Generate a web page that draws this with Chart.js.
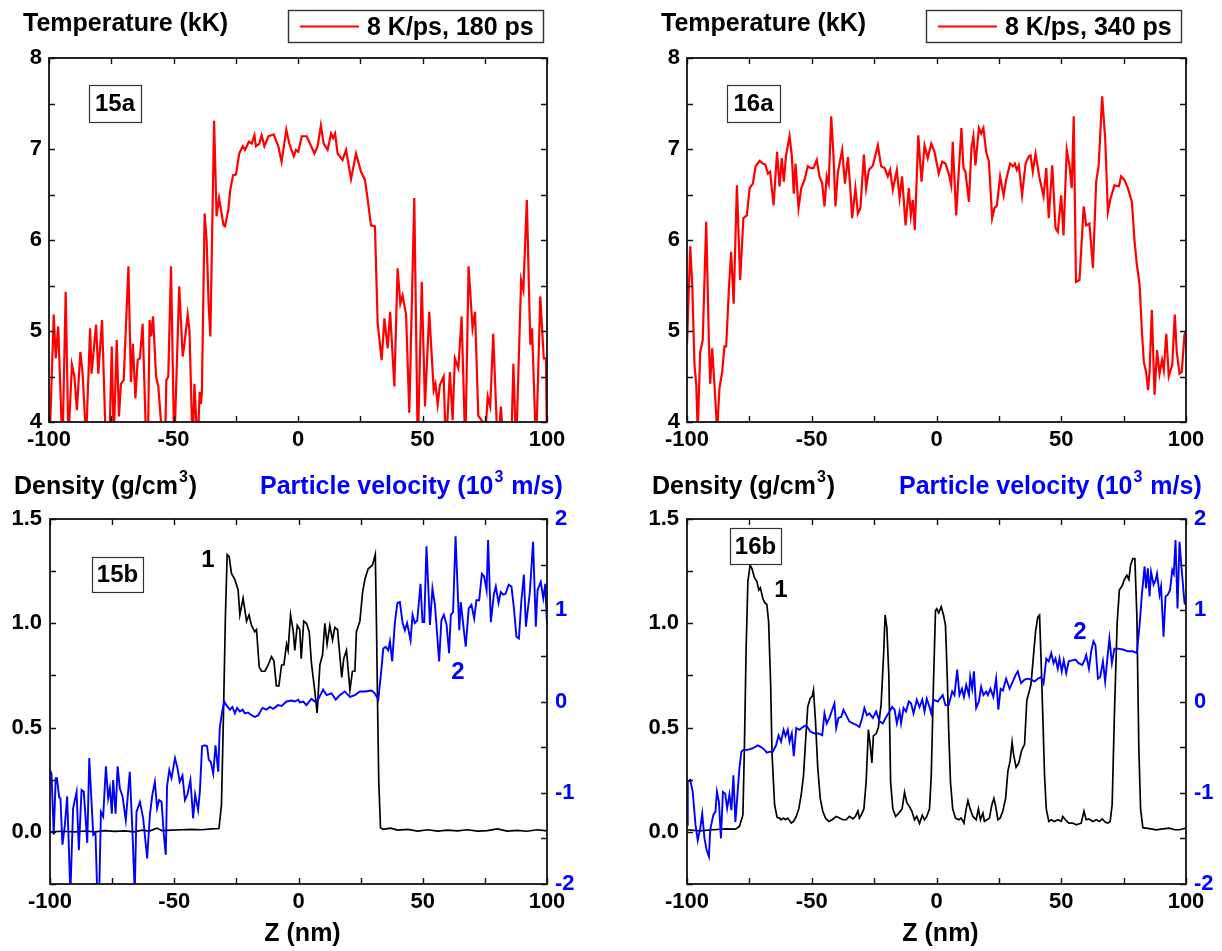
<!DOCTYPE html>
<html>
<head>
<meta charset="utf-8">
<title>Temperature, density and particle velocity profiles</title>
<script src="https://cdn.jsdelivr.net/npm/chart.js@4.4.1/dist/chart.umd.min.js"></script>
<style>
	html, body { margin: 0; padding: 0; background: #fff; }
	#page { position: relative; width: 1222px; height: 951px; overflow: hidden; }
	#page canvas { position: absolute; left: 0; top: 0; }
</style>
</head>
<body>
<div id="page">
	<canvas id="c15a" width="1222" height="951"></canvas>
	<canvas id="c16a" width="1222" height="951"></canvas>
	<canvas id="c15b" width="1222" height="951"></canvas>
	<canvas id="c16b" width="1222" height="951"></canvas>
</div>
<script>
// ---- labels ----
const panelLabels = ['15a', '16a', '15b', '16b']
const legendLabels = ['8 K/ps, 180 ps', '8 K/ps, 340 ps']
const curveLabels = ['1', '2']
const tempTitle = ['Temperature (kK)']
const densTitle = ['Density (g/cm', { sup: '3' }, ')']
const velTitle = ['Particle velocity (10', { sup: '3' }, ' m/s)']
const zTitle = 'Z (nm)'

// ---- temperature, 180 ps (kK) ----
const tempZ15 = [
	-100, -99.5, -98.1, -97.3, -96.3, -94.6, -93.3, -92.2, -90.8, -89.8,
	-88.8, -87.4, -86.5, -85.1, -83.5, -82.9, -81.1, -80.2, -78.7, -77.1,
	-75.8, -74.8, -74.0, -72.8, -71.9, -71.1, -70.0, -68.1, -67.1, -66.3,
	-65.3, -64.4, -63.5, -62.4, -60.9, -60.3, -59.6, -59.0, -58.2, -57.0,
	-56.1, -54.2, -53.4, -52.9, -52.1, -51.0, -49.7, -47.7, -46.3, -45.6,
	-44.3, -43.6, -42.3, -41.6, -40.3, -39.5, -39.0, -38.6, -37.5, -36.7,
	-35.9, -35.2, -33.7, -32.7, -31.7, -30.9, -29.9, -29.3, -28.0, -27.2,
	-26.1, -24.9, -23.6, -22.2, -21.3, -19.7, -18.6, -17.5, -16.9, -15.5,
	-14.6, -13.5, -11.9, -9.8, -7.9, -6.6, -5.5, -4.7, -3.5, -1.7,
	-0.8, 0.1, 1.5, 3.5, 6.6, 7.9, 9.2, 10.3, 11.9, 13.3,
	14.1, 14.9, 15.9, 17.9, 19.3, 21.3, 23.3, 25.3, 26.9, 28.0,
	29.3, 30.9, 32.0, 33.6, 34.7, 36.0, 37.0, 38.7, 40.0, 41.1,
	42.0, 43.4, 44.7, 46.7, 48.1, 49.7, 51.0, 52.7, 54.5, 55.2,
	56.1, 57.0, 58.5, 59.4, 61.0, 62.1, 63.0, 64.4, 65.7, 67.2,
	68.5, 70.1, 71.1, 72.4, 74.2, 75.1, 76.2, 77.2, 78.4, 80.2,
	81.5, 82.6, 85.6, 86.5, 87.6, 89.6, 90.5, 91.9, 93.3, 94.0,
	95.6, 97.3, 98.7, 99.6, 100,
]
const temp15 = [
	3.8, 4.0, 5.18, 4.70, 5.05, 3.7, 5.43, 3.8, 4.63, 4.5,
	4.13, 4.77, 4.53, 3.8, 5.03, 4.53, 5.07, 4.53, 5.12, 3.7,
	3.7, 4.83, 3.8, 4.9, 4.06, 4.42, 4.46, 5.71, 4.44, 4.86,
	4.26, 4.68, 4.70, 5.08, 3.7, 3.7, 5.12, 4.94, 5.16, 4.5,
	4.39, 3.7, 3.7, 4.46, 4.5, 5.71, 3.7, 5.49, 4.72, 4.86,
	5.18, 5.01, 3.7, 4.42, 3.7, 4.33, 4.2, 4.33, 6.29, 6.0,
	5.3, 4.94, 7.31, 6.26, 6.46, 6.33, 6.16, 6.15, 6.33, 6.55,
	6.71, 6.72, 6.95, 7.03, 6.99, 7.08, 7.06, 7.15, 7.03, 7.06,
	7.15, 7.03, 7.14, 7.16, 7.03, 6.86, 7.06, 7.21, 7.06, 6.92,
	6.99, 6.97, 7.14, 7.14, 6.95, 7.03, 7.26, 7.06, 6.99, 7.17,
	7.12, 7.17, 6.95, 6.88, 6.99, 6.67, 6.95, 6.75, 6.66, 6.44,
	6.16, 6.15, 5.08, 4.68, 5.14, 4.81, 5.21, 4.39, 5.69, 5.3,
	5.39, 5.18, 4.1, 6.46, 3.7, 5.54, 4.17, 5.21, 4.35, 4.42,
	4.19, 4.41, 4.5, 3.7, 4.55, 4.02, 4.7, 4.59, 5.16, 3.7,
	5.71, 5.03, 5.21, 4.07, 4.0, 3.8, 4.28, 4.17, 4.97, 3.7,
	4.17, 3.7, 3.7, 4.64, 3.7, 5.56, 5.45, 6.44, 4.85, 5.03,
	3.7, 5.38, 4.70, 4.70, 3.7,
]

// ---- temperature, 340 ps (kK) ----
const tempZ16 = [
	-100, -98.7, -97.9, -97.0, -96.3, -95.7, -94.7, -93.7, -92.3, -91.2,
	-90.7, -89.9, -89.0, -87.9, -87.0, -85.9, -85.0, -84.3, -83.2, -82.3,
	-81.3, -80.0, -78.7, -77.4, -76.0, -74.9, -73.6, -72.5, -70.9, -69.6,
	-68.6, -67.6, -66.7, -65.3, -63.9, -62.9, -62.0, -61.2, -60.3, -58.9,
	-58.0, -57.2, -56.5, -55.3, -54.2, -52.9, -51.6, -50.3, -49.3, -48.0,
	-46.9, -45.8, -44.9, -44.0, -43.2, -42.2, -41.3, -40.5, -39.5, -37.8,
	-36.7, -35.5, -34.6, -33.8, -32.5, -31.5, -30.5, -29.1, -28.2, -27.1,
	-25.5, -23.5, -22.2, -20.8, -19.5, -18.6, -17.5, -15.9, -14.8, -13.8,
	-12.4, -11.1, -10.3, -9.5, -8.7, -7.3, -6.0, -4.8, -3.5, -2.1,
	-0.8, 0.9, 2.3, 3.6, 4.9, 5.9, 6.5, 7.9, 9.0, 10.0,
	10.8, 11.6, 13.0, 14.0, 14.8, 15.6, 17.0, 17.9, 18.8, 19.9,
	21.0, 22.3, 23.2, 24.2, 25.5, 26.9, 27.9, 29.5, 30.6, 31.4,
	32.2, 33.0, 34.3, 35.7, 37.0, 37.7, 38.6, 39.7, 41.3, 42.9,
	44.0, 45.0, 46.4, 47.7, 48.6, 50.0, 50.9, 52.2, 53.3, 54.2,
	55.0, 55.9, 57.3, 59.0, 60.0, 61.3, 62.7, 64.0, 65.0, 66.4,
	67.6, 68.7, 69.6, 71.3, 73.1, 74.0, 75.3, 76.7, 78.3, 79.4,
	80.3, 81.4, 82.4, 83.1, 84.0, 84.8, 85.4, 86.3, 87.4, 88.4,
	89.4, 90.4, 91.1, 92.1, 93.1, 94.5, 95.5, 96.3, 97.4, 98.3,
	99.4, 100,
]
const temp16 = [
	4.85, 5.93, 5.51, 4.63, 4.41, 3.9, 4.77, 4.9, 6.2, 4.85,
	4.42, 4.81, 4.41, 3.9, 4.37, 4.55, 4.83, 4.83, 5.47, 5.87,
	5.3, 6.6, 5.56, 6.24, 6.27, 6.57, 6.62, 6.81, 6.87, 6.84,
	6.83, 6.73, 6.75, 6.38, 6.97, 6.59, 6.9, 6.64, 6.93, 7.14,
	6.93, 6.51, 6.84, 6.35, 6.57, 6.66, 6.81, 6.79, 6.79, 6.88,
	6.7, 6.62, 6.37, 6.7, 6.62, 7.36, 6.93, 6.37, 6.75, 6.99,
	6.62, 6.91, 6.59, 6.24, 6.57, 6.29, 6.35, 6.94, 6.57, 6.77,
	6.82, 7.04, 6.81, 6.79, 6.7, 6.77, 6.55, 6.77, 6.46, 6.7,
	6.16, 6.57, 6.27, 6.44, 6.11, 7.15, 6.64, 7.04, 6.9, 7.06,
	6.97, 6.73, 6.86, 6.84, 6.73, 6.6, 7.08, 6.27, 6.79, 7.23,
	6.79, 6.75, 6.42, 7.01, 7.14, 6.82, 7.23, 7.17, 7.23, 6.97,
	6.86, 6.24, 6.35, 6.38, 6.7, 6.49, 6.66, 6.84, 6.81, 6.84,
	6.77, 6.82, 6.49, 6.84, 6.92, 6.93, 6.75, 6.95, 6.68, 6.48,
	6.79, 6.24, 6.82, 6.13, 6.09, 6.49, 6.05, 6.99, 6.82, 6.57,
	7.36, 5.54, 5.56, 6.37, 6.16, 6.18, 5.69, 6.64, 6.82, 7.58,
	7.12, 6.31, 6.44, 6.6, 6.59, 6.7, 6.66, 6.57, 6.42, 5.98,
	5.73, 5.51, 4.96, 4.66, 4.55, 4.35, 4.55, 5.23, 4.3, 4.79,
	4.53, 4.68, 4.57, 4.97, 4.5, 4.63, 5.18, 4.77, 4.53, 4.55,
	4.96, 5.0,
]

// ---- density, 180 ps (g/cm3) ----
const densZ15 = [
	-100, -95, -90, -86, -82, -78, -74, -70, -66, -63,
	-60, -57, -55, -51, -47, -43, -39, -35, -32, -31.0,
	-30.3, -29.4, -28.7, -27.9, -27.0, -25.6, -24.3, -23.6, -22.3, -20.9,
	-19.9, -18.9, -17.6, -16.9, -15.8, -14.9, -13.5, -12.2, -10.9, -9.9,
	-8.9, -7.9, -6.8, -5.9, -4.8, -4.2, -3.2, -2.1, -1.5, -0.5,
	0.5, 1.1, 2.1, 3.2, 4.3, 5.2, 6.6, 7.5, 8.6, 9.7,
	10.6, 11.5, 12.6, 13.7, 14.6, 15.7, 16.6, 17.4, 18.2, 19.3,
	20.7, 21.7, 22.7, 23.3, 24.7, 25.8, 26.7, 28.0, 29.8, 30.9,
	31.4, 31.8, 32.3, 33.0, 34.1, 37, 40, 44, 48, 52,
	56, 60, 64, 68, 72, 76, 80, 84, 88, 92,
	96, 100,
]
const dens15 = [
	0.0, 0.003, 0.0, 0.004, 0.0, 0.006, 0.002, 0.005, 0.0, 0.008,
	0.004, 0.018, 0.006, 0.008, 0.01, 0.012, 0.01, 0.014, 0.016, 0.13,
	0.5, 1.04, 1.33, 1.32, 1.24, 1.21, 1.16, 1.04, 1.12, 1.01,
	1.04, 0.99, 0.96, 0.97, 0.79, 0.77, 0.77, 0.80, 0.84, 0.82,
	0.70, 0.70, 0.80, 0.80, 0.90, 0.87, 1.04, 0.96, 0.87, 0.99,
	0.97, 0.83, 1.01, 1.0, 0.96, 0.81, 0.67, 0.57, 0.80, 0.85,
	1.0, 0.90, 0.99, 0.92, 0.98, 0.97, 0.85, 0.74, 0.83, 0.87,
	0.68, 0.77, 0.77, 0.96, 1.01, 1.15, 1.21, 1.26, 1.28, 1.33,
	0.98, 0.63, 0.24, 0.02, 0.012, 0.018, 0.008, 0.012, 0.004, 0.01,
	0.004, 0.008, 0.005, 0.01, 0.004, 0.006, 0.014, 0.004, 0.007, 0.003,
	0.01, 0.005,
]

// ---- particle velocity, 180 ps (10^3 m/s) ----
const velZ15 = [
	-100, -99.4, -98.5, -97.7, -97.2, -96.3, -95.8, -95.0, -94.0, -93.1,
	-91.8, -90.7, -89.3, -88.4, -87.3, -86.4, -85.0, -84.2, -82.6, -81.7,
	-81.0, -80.2, -79.5, -78.6, -77.5, -76.6, -75.9, -75.1, -74.6, -73.6,
	-72.8, -71.9, -70.8, -69.5, -67.9, -66.8, -65.9, -65.2, -63.8, -62.5,
	-61.7, -60.9, -59.8, -58.8, -57.8, -56.9, -56.1, -55.1, -54.2, -53.4,
	-52.9, -52.0, -51.1, -49.7, -48.7, -47.8, -46.7, -45.7, -44.7, -43.5,
	-42.4, -41.6, -40.4, -39.7, -38.8, -37.7, -36.8, -36.1, -35.3, -34.3,
	-33.4, -32.3, -31.7, -30.7, -29.9, -29.0, -27.6, -26.6, -25.6, -24.7,
	-23.6, -22.5, -21.6, -20.3, -18.9, -17.6, -16.2, -14.5, -12.9, -11.5,
	-10.2, -8.2, -6.8, -4.8, -2.8, -1.5, -0.1, 0.5, 1.9, 3.2,
	5.2, 6.6, 7.9, 9.9, 11.3, 13.3, 15.0, 16.6, 18.6, 20.7,
	22.7, 24.7, 26.7, 29.4, 30.7, 32.1, 33.4, 34.1, 35.1, 36.1,
	36.8, 37.7, 38.8, 39.8, 40.8, 41.9, 42.8, 43.7, 45.1, 45.9,
	46.8, 47.8, 49.1, 49.9, 50.6, 51.5, 52.9, 53.9, 54.9, 56.6,
	57.5, 58.5, 59.6, 60.6, 61.3, 62.2, 63.2, 64.7, 65.3, 66.3,
	67.3, 68.5, 69.6, 70.7, 71.6, 72.7, 73.8, 74.7, 75.7, 76.3,
	77.4, 78.6, 79.4, 80.5, 81.4, 82.4, 83.3, 84.6, 85.7, 86.7,
	87.7, 88.7, 89.7, 90.7, 91.5, 93.1, 94.4, 95.5, 96.2, 97.5,
	98.5, 99.3, 100,
]
const vel15 = [
	-0.75, -0.79, -1.46, -0.84, -0.84, -1.05, -1.06, -1.57, -1.35, -1.04,
	-2.1, -1.17, -0.99, -1.63, -0.97, -0.99, -1.55, -0.62, -1.46, -1.44,
	-2.1, -2.1, -1.21, -1.26, -0.71, -1.06, -0.95, -1.23, -0.86, -1.23,
	-0.71, -0.95, -1.04, -1.30, -0.77, -1.44, -2.1, -1.21, -1.10, -1.28,
	-1.50, -1.72, -1.24, -1.02, -0.88, -1.17, -1.08, -1.10, -1.46, -1.68,
	-0.93, -0.75, -0.84, -0.62, -0.73, -0.88, -0.81, -1.08, -1.02, -0.86,
	-1.28, -1.02, -1.19, -0.99, -0.49, -0.48, -0.49, -0.64, -0.66, -0.79,
	-0.48, -0.77, -0.29, -0.11, 0.0, -0.04, -0.09, -0.06, -0.13, -0.07,
	-0.11, -0.09, -0.13, -0.12, -0.15, -0.17, -0.15, -0.07, -0.09, -0.06,
	-0.08, -0.04, -0.05, 0.0, 0.01, 0.0, 0.02, -0.01, 0.0, -0.04,
	0.03, 0.0, 0.02, 0.13, 0.07, 0.09, 0.02, 0.07, 0.11, 0.05,
	0.07, 0.11, 0.11, 0.12, 0.09, 0.02, 0.36, 0.58, 0.6, 0.56,
	0.66, 0.44, 0.87, 1.08, 1.09, 0.86, 0.78, 0.86, 0.67, 0.95,
	0.86, 0.89, 1.29, 0.87, 0.87, 1.70, 0.84, 1.24, 1.06, 0.44,
	0.89, 0.95, 0.84, 0.53, 0.95, 0.98, 1.81, 0.78, 1.09, 0.84,
	0.60, 1.02, 1.06, 0.91, 1.11, 1.11, 1.40, 1.37, 1.22, 1.77,
	0.87, 1.17, 1.26, 1.08, 1.20, 1.17, 1.18, 1.28, 1.26, 1.02,
	0.71, 0.69, 1.11, 1.39, 0.82, 1.20, 1.75, 0.82, 1.22, 1.31,
	1.13, 1.29, 0.85,
]

// ---- density, 340 ps (g/cm3) ----
const densZ16 = [
	-100, -95, -89.6, -84.3, -80.6, -79.0, -77.6, -77.0, -76.3, -75.6,
	-74.7, -73.9, -73.0, -72.0, -71.2, -70.6, -69.6, -68.9, -68.0, -67.3,
	-66.5, -65.9, -64.9, -63.9, -62.9, -62.3, -61.3, -60.5, -59.6, -58.2,
	-57.3, -56.2, -55.2, -54.2, -53.3, -52.5, -51.6, -50.6, -49.8, -49.3,
	-48.5, -47.6, -46.6, -45.6, -44.5, -43.2, -41.8, -40.2, -38.9, -37.5,
	-36.2, -34.9, -33.5, -32.5, -31.5, -30.9, -30.2, -29.1, -28.2, -27.3,
	-26.6, -25.9, -25.3, -24.2, -23.3, -22.2, -21.2, -20.6, -19.9, -19.1,
	-18.4, -17.5, -16.4, -15.1, -13.8, -12.8, -11.9, -10.8, -9.9, -8.8,
	-7.9, -6.8, -5.7, -4.8, -3.9, -2.8, -2.1, -1.2, -0.4, 0.1,
	0.9, 1.9, 2.8, 3.6, 4.3, 4.9, 5.6, 6.5, 7.6, 9.0,
	9.9, 11.0, 11.9, 12.6, 13.5, 14.6, 15.9, 16.8, 17.6, 18.6,
	19.2, 20.2, 21.2, 22.2, 23.0, 23.6, 24.6, 25.5, 26.6, 27.7,
	28.6, 29.5, 30.3, 30.9, 31.9, 33.0, 34.1, 35.3, 36.2, 37.3,
	37.9, 38.9, 39.7, 40.6, 41.3, 41.9, 42.6, 43.3, 44.0, 45.0,
	46.0, 47.3, 48.6, 50.0, 50.6, 51.7, 53.0, 54.6, 56.0, 58.0,
	59.1, 60.0, 61.1, 62.7, 64.0, 65.3, 66.4, 67.7, 68.7, 69.6,
	70.4, 71.3, 72.4, 73.3, 74.4, 75.3, 76.3, 77.1, 77.8, 78.7,
	79.5, 80.3, 81.1, 81.8, 82.7, 84.0, 86.0, 88.0, 90.7, 93.4,
	95.4, 97.4, 99.8, 100,
]
const dens16 = [
	0.01, 0.005, 0.01, 0.014, 0.013, 0.026, 0.08, 0.40, 0.88, 1.20,
	1.28, 1.26, 1.22, 1.20, 1.16, 1.17, 1.12, 1.10, 1.09, 1.01,
	0.72, 0.37, 0.13, 0.07, 0.066, 0.058, 0.066, 0.058, 0.066, 0.042,
	0.05, 0.074, 0.11, 0.18, 0.27, 0.43, 0.60, 0.64, 0.65, 0.68,
	0.53, 0.31, 0.16, 0.10, 0.066, 0.05, 0.058, 0.074, 0.066, 0.058,
	0.058, 0.074, 0.062, 0.074, 0.10, 0.066, 0.08, 0.11, 0.24, 0.49,
	0.42, 0.33, 0.46, 0.47, 0.50, 0.61, 0.85, 1.04, 0.98, 0.75,
	0.24, 0.11, 0.074, 0.09, 0.11, 0.19, 0.14, 0.12, 0.10, 0.058,
	0.074, 0.04, 0.08, 0.058, 0.074, 0.11, 0.27, 0.72, 1.06, 1.07,
	1.05, 1.08, 1.04, 0.99, 0.75, 0.48, 0.24, 0.11, 0.066, 0.058,
	0.066, 0.042, 0.11, 0.15, 0.11, 0.074, 0.058, 0.11, 0.058, 0.09,
	0.05, 0.058, 0.066, 0.13, 0.16, 0.13, 0.058, 0.066, 0.10, 0.16,
	0.29, 0.34, 0.43, 0.37, 0.31, 0.33, 0.39, 0.42, 0.63, 0.68,
	0.71, 0.85, 0.96, 1.03, 1.04, 0.83, 0.56, 0.27, 0.11, 0.05,
	0.058, 0.05, 0.058, 0.05, 0.074, 0.058, 0.042, 0.042, 0.034, 0.042,
	0.10, 0.058, 0.062, 0.05, 0.058, 0.05, 0.062, 0.046, 0.042, 0.05,
	0.13, 0.56, 1.0, 1.16, 1.18, 1.21, 1.23, 1.21, 1.28, 1.31,
	1.31, 1.04, 0.40, 0.11, 0.02, 0.018, 0.014, 0.01, 0.014, 0.018,
	0.01, 0.01, 0.018, 0.015,
]

// ---- particle velocity, 340 ps (10^3 m/s) ----
const velZ16 = [
	-100, -99.7, -98.7, -97.7, -96.6, -95.7, -94.7, -93.9, -93.0, -92.1,
	-91.2, -90.7, -89.9, -89.4, -88.6, -88.0, -87.2, -86.4, -85.6, -84.7,
	-83.9, -83.0, -82.2, -81.4, -80.6, -79.7, -79.0, -78.2, -77.4, -75.6,
	-73.6, -71.6, -70.3, -68.9, -68.0, -66.7, -65.6, -64.3, -63.3, -62.3,
	-61.3, -60.5, -59.6, -58.9, -58.0, -57.2, -56.2, -54.9, -53.6, -52.2,
	-50.6, -48.9, -47.2, -45.8, -44.9, -44.0, -42.9, -41.8, -40.9, -40.2,
	-39.3, -38.2, -37.3, -36.2, -34.9, -33.5, -31.9, -30.9, -29.8, -28.9,
	-27.9, -26.9, -25.5, -24.2, -22.8, -21.5, -20.2, -18.8, -17.8, -16.8,
	-15.9, -14.8, -14.2, -13.2, -12.2, -11.1, -10.2, -9.2, -7.9, -6.8,
	-5.7, -4.8, -3.9, -2.8, -2.1, -1.2, 0.5, 2.5, 3.6, 4.9,
	6.3, 7.2, 8.3, 9.2, 10.2, 11.0, 11.9, 13.0, 13.5, 14.3,
	15.0, 15.9, 17.0, 17.9, 18.8, 19.9, 20.6, 21.6, 22.8, 23.9,
	24.8, 25.7, 26.6, 27.9, 29.3, 30.6, 31.7, 32.6, 33.9, 35.3,
	36.6, 37.9, 39.3, 40.6, 41.9, 42.9, 44.0, 45.0, 46.0, 46.9,
	47.7, 48.6, 49.3, 50.2, 51.0, 52.0, 53.0, 54.4, 55.7, 57.0,
	58.4, 59.3, 60.0, 61.1, 62.0, 62.9, 63.7, 64.7, 65.6, 66.7,
	67.6, 68.3, 69.3, 70.3, 71.3, 72.7, 74.7, 76.7, 78.7, 80.3,
	81.4, 82.3, 83.4, 84.0, 84.7, 85.4, 86.0, 87.0, 87.8, 88.4,
	89.4, 90.0, 91.0, 91.8, 92.7, 93.6, 94.5, 95.1, 95.8, 96.6,
	97.4, 98.5, 99.4, 100,
]
const vel16 = [
	-1.35, -0.88, -0.86, -0.99, -1.35, -1.52, -1.39, -1.23, -1.50, -1.63,
	-1.70, -1.41, -1.30, -1.24, -1.21, -0.99, -1.10, -1.50, -0.99, -1.01,
	-1.17, -1.02, -1.19, -0.81, -1.32, -0.99, -0.73, -0.55, -0.53, -0.53,
	-0.51, -0.48, -0.50, -0.53, -0.56, -0.55, -0.55, -0.48, -0.37, -0.44,
	-0.31, -0.38, -0.31, -0.44, -0.35, -0.60, -0.29, -0.31, -0.28, -0.26,
	-0.33, -0.35, -0.35, -0.37, -0.13, -0.24, -0.18, -0.09, -0.02, -0.29,
	-0.18, -0.17, -0.09, -0.15, -0.22, -0.24, -0.26, -0.28, -0.18, -0.07,
	-0.15, -0.13, -0.18, -0.11, -0.22, -0.24, -0.17, -0.11, -0.06, -0.09,
	-0.24, -0.11, -0.24, -0.07, -0.11, 0.0, -0.02, -0.13, 0.02, -0.06,
	0.02, -0.11, 0.03, -0.06, -0.13, 0.02, 0.0, 0.07, -0.04, -0.04,
	0.11, 0.07, 0.35, 0.07, 0.14, 0.05, 0.18, 0.07, 0.27, 0.14,
	0.33, -0.07, 0.0, 0.16, 0.07, 0.11, 0.07, 0.14, 0.05, 0.25,
	-0.09, 0.14, 0.12, 0.25, 0.14, 0.22, 0.29, 0.33, 0.20, 0.24,
	0.25, 0.24, 0.22, 0.25, 0.27, 0.20, 0.47, 0.44, 0.53, 0.42,
	0.47, 0.36, 0.47, 0.33, 0.45, 0.31, 0.44, 0.45, 0.46, 0.42,
	0.40, 0.45, 0.51, 0.36, 0.55, 0.66, 0.62, 0.25, 0.27, 0.44,
	0.22, 0.42, 0.69, 0.42, 0.58, 0.58, 0.57, 0.55, 0.55, 0.53,
	0.84, 1.17, 1.48, 1.24, 1.46, 1.15, 1.42, 1.28, 1.33, 1.40,
	1.17, 1.26, 0.71, 1.15, 1.17, 1.22, 1.44, 1.40, 1.77, 1.02,
	1.75, 1.37, 1.08, 1.06,
]

// ---- drawing setup ----
const FONT = '"Liberation Sans", Arial, Helvetica, sans-serif'
const RED = '#ff0000'
const BLUE = '#0000ff'
const INK = '#000000'
const tickFont = { family: FONT, size: 22, weight: 'bold' }

Chart.defaults.font.family = FONT
Chart.defaults.animation = false

const pts = (xs, ys) => xs.map((x, i) => ({ x: x, y: ys[i] }))

// draws a run of bold text, objects like {sup: '3'} are raised and smaller
function drawParts(ctx, parts, x, y, size, color) {
	ctx.fillStyle = color
	ctx.textAlign = 'left'
	ctx.textBaseline = 'alphabetic'
	for (const p of parts) {
		if (typeof p === 'string') {
			ctx.font = `bold ${size}px ${FONT}`
			ctx.fillText(p, x, y)
			x += ctx.measureText(p).width
		} else {
			ctx.font = `bold ${Math.round(size * 0.62)}px ${FONT}`
			ctx.fillText(p.sup, x + 1, y - size * 0.48)
			x += ctx.measureText(p.sup).width + 2
		}
	}
}

function boxedLabel(ctx, text, x0, y0, x1, y1) {
	ctx.save()
	ctx.fillStyle = '#fff'
	ctx.fillRect(x0, y0, x1 - x0, y1 - y0)
	ctx.strokeStyle = '#333'
	ctx.lineWidth = 1.2
	ctx.strokeRect(x0 + 0.5, y0 + 0.5, x1 - x0, y1 - y0)
	ctx.fillStyle = INK
	ctx.font = `bold 24px ${FONT}`
	ctx.textAlign = 'center'
	ctx.textBaseline = 'middle'
	ctx.fillText(text, (x0 + x1) / 2, (y0 + y1) / 2 + 1)
	ctx.restore()
}

// per panel annotations, offsets are relative to the chart area
const decor = {
	c15a: { title: true, legend: legendLabels[0], panel: [panelLabels[0], 40, 27, 92, 64] },
	c16a: { title: true, legend: legendLabels[1], panel: [panelLabels[1], 40, 27, 93, 64] },
	c15b: {
		bottom: true, panel: [panelLabels[2], 42, 38, 93, 73],
		densX: -36, velX: 210,
		curve1: [158, 41], curve2: [408, 153],
	},
	c16b: {
		bottom: true, panel: [panelLabels[3], 43, 9, 94, 45],
		densX: -35, velX: 212,
		curve1: [94, 71], curve2: [393, 113],
	},
}

// frame round the plot and inward tick marks on every side
const framePlugin = {
	id: 'frame',
	afterDatasetsDraw(chart) {
		const { ctx, chartArea: a, scales } = chart
		const L = 6
		ctx.save()
		ctx.strokeStyle = '#111'
		ctx.lineWidth = 1.4
		ctx.beginPath()
		for (const t of scales.x.ticks) {
			const px = Math.round(scales.x.getPixelForValue(t.value)) + 0.5
			ctx.moveTo(px, a.bottom); ctx.lineTo(px, a.bottom - L)
			ctx.moveTo(px, a.top); ctx.lineTo(px, a.top + L)
		}
		for (const t of scales.y.ticks) {
			const py = Math.round(scales.y.getPixelForValue(t.value)) + 0.5
			ctx.moveTo(a.left, py); ctx.lineTo(a.left + L, py)
			if (!scales.y2) { ctx.moveTo(a.right, py); ctx.lineTo(a.right - L, py) }
		}
		if (scales.y2) {
			for (const t of scales.y2.ticks) {
				const py = Math.round(scales.y2.getPixelForValue(t.value)) + 0.5
				ctx.moveTo(a.right, py); ctx.lineTo(a.right - L, py)
			}
		}
		ctx.stroke()
		ctx.lineWidth = 1.8
		ctx.strokeRect(a.left, a.top, a.right - a.left, a.bottom - a.top)
		ctx.restore()
	},
	afterDraw(chart) {
		const d = decor[chart.canvas.id]
		const { ctx, chartArea: a } = chart
		ctx.save()
		if (d.title) {
			drawParts(ctx, tempTitle, a.left - 26, a.top - 27, 25, INK)
			// legend box with a line sample
			const bx = a.left + 239, by = a.top - 48
			ctx.strokeStyle = '#333'
			ctx.lineWidth = 1.4
			ctx.strokeRect(bx + 0.5, by + 0.5, 255, 32)
			ctx.strokeStyle = RED
			ctx.lineWidth = 2
			ctx.beginPath()
			ctx.moveTo(bx + 12, by + 16.5); ctx.lineTo(bx + 71, by + 16.5)
			ctx.stroke()
			drawParts(ctx, [d.legend], bx + 79, by + 25, 25, INK)
		}
		if (d.bottom) {
			drawParts(ctx, densTitle, a.left + d.densX, a.top - 25, 25, INK)
			drawParts(ctx, velTitle, a.left + d.velX, a.top - 25, 25, BLUE)
			ctx.font = `bold 25px ${FONT}`
			ctx.fillStyle = INK
			ctx.textAlign = 'center'
			ctx.textBaseline = 'alphabetic'
			ctx.fillText(zTitle, (a.left + a.right) / 2 + 4, a.bottom + 57)
			ctx.font = `bold 24px ${FONT}`
			ctx.textBaseline = 'middle'
			ctx.fillText(curveLabels[0], a.left + d.curve1[0], a.top + d.curve1[1])
			ctx.fillStyle = BLUE
			ctx.fillText(curveLabels[1], a.left + d.curve2[0], a.top + d.curve2[1])
		}
		const p = d.panel
		boxedLabel(ctx, p[0], a.left + p[1], a.top + p[2], a.left + p[3], a.top + p[4])
		ctx.restore()
	},
}

function xAxis() {
	return {
		type: 'linear',
		min: -100,
		max: 100,
		afterFit: (s) => { s.height = 48 },
		grid: { display: false, drawTicks: false },
		border: { display: false },
		ticks: {
			stepSize: 25,
			autoSkip: false,
			maxRotation: 0,
			padding: 5,
			color: INK,
			font: tickFont,
			callback: (v) => (v % 50 === 0 ? String(v) : ''),
		},
	}
}

// temperature panel: one red line
function tempChart(id, xs, ys, left, right) {
	new Chart(document.getElementById(id), {
		type: 'line',
		data: {
			datasets: [{
				data: pts(xs, ys),
				borderColor: RED,
				borderWidth: 2.2,
				pointRadius: 0,
				tension: 0,
			}],
		},
		options: {
			responsive: false,
			devicePixelRatio: 1,
			layout: { padding: { left: left, right: right, top: 58, bottom: 951 - 422 - 48 } },
			plugins: { legend: { display: false }, tooltip: { enabled: false } },
			scales: {
				x: xAxis(),
				y: {
					min: 4,
					max: 8,
					afterFit: (s) => { s.width = 49 },
					grid: { display: false, drawTicks: false },
					border: { display: false },
					ticks: {
						stepSize: 0.5,
						autoSkip: false,
						padding: 7,
						color: INK,
						font: tickFont,
						callback: (v) => (Number.isInteger(v) ? String(v) : ''),
					},
				},
			},
		},
		plugins: [framePlugin],
	})
}

// density (black, left axis) and particle velocity (blue, right axis)
function profileChart(id, dz, dv, vz, vv, left, right, rightW) {
	new Chart(document.getElementById(id), {
		type: 'line',
		data: {
			datasets: [
				{
					data: pts(vz, vv),
					yAxisID: 'y2',
					borderColor: BLUE,
					borderWidth: 1.9,
					pointRadius: 0,
					tension: 0,
				},
				{
					data: pts(dz, dv),
					yAxisID: 'y',
					borderColor: INK,
					borderWidth: 1.7,
					pointRadius: 0,
					tension: 0,
				},
			],
		},
		options: {
			responsive: false,
			devicePixelRatio: 1,
			layout: { padding: { left: left, right: right, top: 519, bottom: 951 - 884 - 48 } },
			plugins: { legend: { display: false }, tooltip: { enabled: false } },
			scales: {
				x: xAxis(),
				y: {
					position: 'left',
					min: -0.25,
					max: 1.5,
					afterFit: (s) => { s.width = 49 },
					grid: { display: false, drawTicks: false },
					border: { display: false },
					ticks: {
						stepSize: 0.25,
						autoSkip: false,
						padding: 8,
						color: INK,
						font: tickFont,
						callback: (v) => {
							const h = v * 2
							return Math.abs(h - Math.round(h)) < 1e-6 ? v.toFixed(1) : ''
						},
					},
				},
				y2: {
					position: 'right',
					min: -2,
					max: 2,
					afterFit: (s) => { s.width = rightW },
					grid: { display: false, drawTicks: false },
					border: { display: false },
					ticks: {
						stepSize: 0.5,
						autoSkip: false,
						padding: 8,
						color: BLUE,
						font: tickFont,
						callback: (v) => (Number.isInteger(v) ? String(v) : ''),
					},
				},
			},
		},
		plugins: [framePlugin],
	})
}

tempChart('c15a', tempZ15, temp15, 0, 1222 - 547)
tempChart('c16a', tempZ16, temp16, 687 - 49, 1222 - 1186)
profileChart('c15b', densZ15, dens15, velZ15, vel15, 1, 1222 - 547 - 40, 40)
profileChart('c16b', densZ16, dens16, velZ16, vel16, 687 - 49, 0, 36)
</script>
</body>
</html>
